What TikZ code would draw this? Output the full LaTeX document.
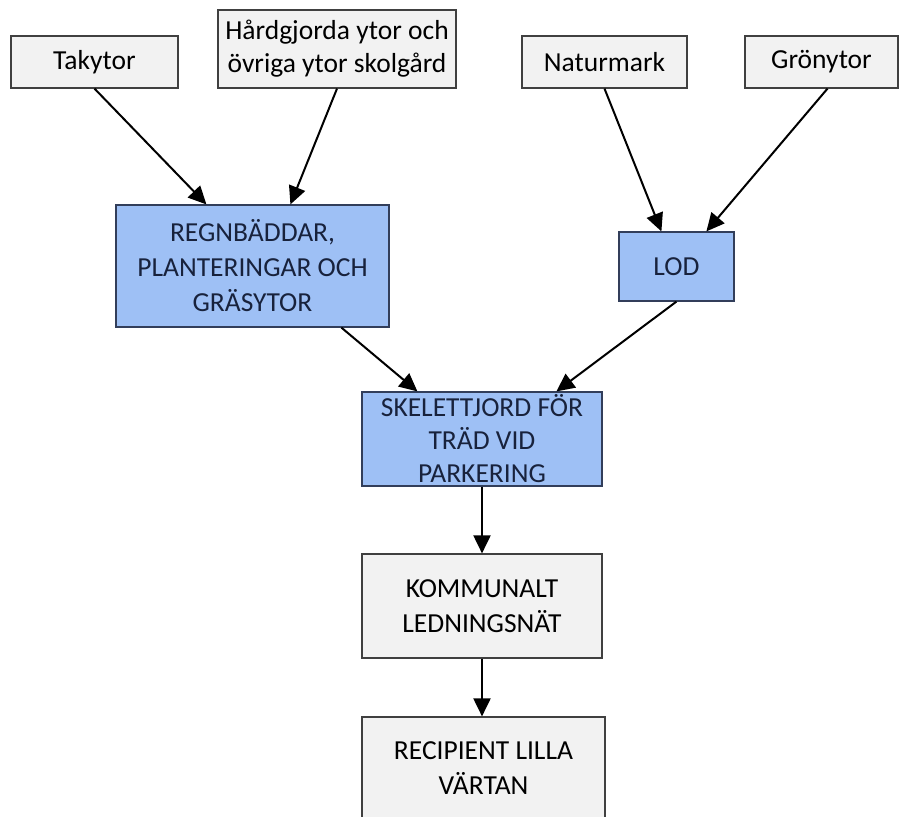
\documentclass[tikz,border=0pt]{standalone}
\usepackage{fontspec}
\setmainfont{Carlito}
\usetikzlibrary{arrows.meta,calc}
\definecolor{boxgray}{RGB}{242,242,242}
\definecolor{boxblue}{RGB}{158,192,245}
\definecolor{bluetext}{RGB}{24,34,60}
\definecolor{grayedge}{RGB}{64,64,64}
\definecolor{blueedge}{RGB}{50,62,90}
\tikzset{
  graybox/.style={draw=grayedge, fill=boxgray, line width=1.2pt, inner sep=0pt,
    align=center, font=\fontsize{27.5}{35}\selectfont, text=black},
  bluebox/.style={draw=blueedge, fill=boxblue, line width=1.2pt, inner sep=0pt,
    align=center, font=\fontsize{27.5}{35}\selectfont, text=bluetext},
  flow/.style={line width=2pt, draw=black, -{Triangle[length=18pt,width=17pt]}}
}
\begin{document}
\begin{tikzpicture}[x=1pt,y=-1pt]
\useasboundingbox (0,0) rectangle (901,816);
\fill[white] (0,0) rectangle (901,816);
\node[graybox, minimum width=167pt, minimum height=52pt] (tak) at (94.5,62) {Takytor};
\node[graybox, minimum width=238pt, minimum height=78pt, font=\fontsize{27.5}{33}\selectfont] (hard) at (337,49) {Hårdgjorda ytor och\\övriga ytor skolgård};
\node[graybox, minimum width=165pt, minimum height=52pt] (nat) at (604.5,62) {Naturmark};
\node[graybox, minimum width=153pt, minimum height=52pt] (gron) at (821.5,62) {Grönytor};
\node[bluebox, minimum width=273pt, minimum height=122pt] (regn) at (252.5,266) {REGNBÄDDAR,\\PLANTERINGAR OCH\\GRÄSYTOR};
\node[bluebox, minimum width=115pt, minimum height=69pt] (lod) at (676.5,266.5) {LOD};
\node[bluebox, minimum width=240pt, minimum height=94pt, font=\fontsize{27.5}{33}\selectfont] (skel) at (482,439) {SKELETTJORD FÖR\\TRÄD VID\\PARKERING};
\node[graybox, minimum width=240pt, minimum height=104pt] (kom) at (482,606) {KOMMUNALT\\LEDNINGSNÄT};
\node[graybox, minimum width=243pt, minimum height=102pt] (rec) at (483.5,768) {RECIPIENT LILLA\\VÄRTAN};
\draw[flow] (tak.south) -- ($(regn.north west)+(91,0)$);
\draw[flow] (hard.south) -- ($(regn.north west)+(175,0)$);
\draw[flow] (nat.south) -- ($(lod.north west)+(43,0)$);
\draw[flow] ($(gron.south)+(6,0)$) -- ($(lod.north west)+(88,0)$);
\draw[flow] ($(regn.south west)+(226,0)$) -- ($(skel.north west)+(56,0)$);
\draw[flow] ($(lod.south west)+(58,0)$) -- ($(skel.north west)+(195,0)$);
\draw[flow] (skel.south) -- (skel.south |- kom.north);
\draw[flow] (kom.south) -- (kom.south |- rec.north);
\end{tikzpicture}
\end{document}
